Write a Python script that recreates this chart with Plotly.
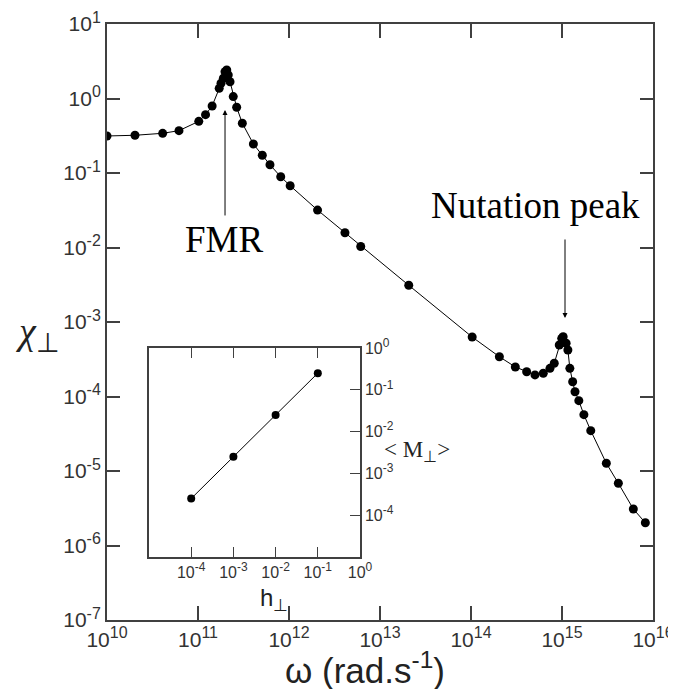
import plotly.graph_objects as go

# main curve: transverse susceptibility vs angular frequency
omega = [1.00e10, 2.03e10, 4.09e10, 6.18e10, 1.02e11, 1.21e11, 1.43e11,
         1.71e11, 1.79e11, 1.90e11, 1.98e11, 2.07e11, 2.15e11, 2.25e11,
         2.44e11, 2.66e11, 3.07e11, 4.06e11, 5.09e11, 6.18e11, 8.11e11,
         1.03e12, 2.06e12, 4.12e12, 6.14e12, 2.07e13, 1.03e14, 2.05e14,
         3.07e14, 4.09e14, 5.05e14, 6.23e14, 7.38e14, 8.22e14, 9.33e14,
         9.93e14, 1.03e15, 1.11e15, 1.16e15, 1.22e15, 1.31e15, 1.39e15,
         1.53e15, 1.74e15, 2.07e15, 3.07e15, 4.16e15, 6.08e15, 8.24e15]
chi = [0.314, 0.321, 0.341, 0.370, 0.494, 0.607, 0.794,
       1.37, 1.60, 1.87, 2.29, 2.41, 2.07, 1.68,
       1.06, 0.762, 0.465, 0.245, 0.173, 0.129, 0.0891,
       0.0675, 0.0318, 0.0158, 0.0103, 3.11e-3, 6.29e-4, 3.42e-4,
       2.49e-4, 2.15e-4, 1.95e-4, 2.05e-4, 2.39e-4, 2.79e-4, 4.91e-4,
       6.04e-4, 6.35e-4, 5.18e-4, 4.21e-4, 2.39e-4, 1.58e-4, 1.16e-4,
       8.79e-5, 5.70e-5, 3.48e-5, 1.27e-5, 6.84e-6, 3.09e-6, 2.02e-6]

# inset: magnetisation vs field
h_perp = [1e-4, 1e-3, 1e-2, 1e-1]
m_perp = [2.5e-4, 2.5e-3, 2.5e-2, 2.5e-1]

x_exp = list(range(10, 17))
y_exp = list(range(-7, 2))
in_exp = list(range(-4, 1))


def pow_label(e, sup_px):
    return "10<sup><span style='font-size:%dpx'>%d</span></sup>" % (sup_px, e)


AX = "#404040"
SANS = "Liberation Sans, Arial"
SERIF = "Liberation Serif, Times New Roman"

fig = go.Figure()

fig.add_trace(go.Scatter(
    x=omega, y=chi, mode="lines+markers",
    line=dict(color="black", width=1),
    marker=dict(color="black", size=9),
    xaxis="x", yaxis="y", showlegend=False))

fig.add_trace(go.Scatter(
    x=h_perp, y=m_perp, mode="lines+markers",
    line=dict(color="black", width=1),
    marker=dict(color="black", size=8),
    xaxis="x2", yaxis="y2", showlegend=False))

# page body has an 8px margin, so the margins are pulled in by 8px
fig.update_layout(
    width=676, height=689, autosize=False,
    margin=dict(l=99, r=31, t=16, b=77),
    paper_bgcolor="white", plot_bgcolor="white",
    font=dict(family=SANS, color="#333333"),
    xaxis=dict(type="log", range=[10, 16], tickvals=[10.0 ** e for e in x_exp],
               ticktext=[pow_label(e, 16) for e in x_exp],
               ticks="inside", ticklen=14, tickwidth=1.5, tickcolor=AX,
               showline=True, linecolor=AX, linewidth=2, mirror="ticks",
               showgrid=False, zeroline=False, automargin=False,
               tickfont=dict(size=21)),
    yaxis=dict(type="log", range=[-7, 1], tickvals=[10.0 ** e for e in y_exp],
               ticktext=[pow_label(e, 16) for e in y_exp],
               ticks="inside", ticklen=13, tickwidth=1.5, tickcolor=AX,
               showline=True, linecolor=AX, linewidth=2, mirror="ticks",
               showgrid=False, zeroline=False, automargin=False,
               tickfont=dict(size=21)),
    xaxis2=dict(type="log", range=[-5, 0], domain=[0.0769, 0.4634], anchor="y2",
                tickvals=[10.0 ** e for e in in_exp],
                ticktext=[pow_label(e, 12) for e in in_exp],
                ticks="inside", ticklen=10, tickwidth=1.2, tickcolor=AX,
                showline=True, linecolor=AX, linewidth=1.5, mirror="ticks",
                showgrid=False, zeroline=False, automargin=False,
                tickfont=dict(size=16)),
    yaxis2=dict(type="log", range=[-5, 0], domain=[0.1057, 0.4564], anchor="x2",
                side="right", tickvals=[10.0 ** e for e in in_exp],
                ticktext=[pow_label(e, 12) for e in in_exp],
                ticks="inside", ticklen=10, tickwidth=1.2, tickcolor=AX,
                showline=True, linecolor=AX, linewidth=1.5, mirror=True,
                showgrid=False, zeroline=False, automargin=False,
                tickfont=dict(size=16)),
)

annots = [
    # axis titles
    dict(text="<i>χ</i><sub>⊥</sub>", x=-0.172, y=0.48, xref="paper", yref="paper",
         showarrow=False, font=dict(size=38, family=SERIF, color="#222222")),
    dict(text="ω (rad.s<sup>-1</sup>)", x=0.4725, y=-0.12, xref="paper", yref="paper",
         showarrow=False, font=dict(size=35, family=SANS, color="#222222")),
    dict(text="h<sub>⊥</sub>", x=0.2766, y=0.005, xref="paper", yref="paper",
         showarrow=False, font=dict(size=24, family=SANS, color="#222222")),
    dict(text="&lt; M<sub>⊥</sub>&gt;", x=0.568, y=0.257, xref="paper", yref="paper",
         showarrow=False, font=dict(size=23, family=SERIF, color="#222222")),
    # peak labels
    dict(text="FMR", x=11.286, y=-1.899, xref="x", yref="y",
         showarrow=False, font=dict(size=37, family=SERIF, color="black")),
    dict(text="Nutation peak", x=14.714, y=-1.43, xref="x", yref="y",
         showarrow=False, font=dict(size=37, family=SERIF, color="black")),
    # arrows
    dict(text="", x=11.297, y=-0.154, xref="x", yref="y", ax=0, ay=107,
         showarrow=True, arrowhead=2, arrowsize=1, arrowwidth=1, arrowcolor="black"),
    dict(text="", x=15.033, y=-2.946, xref="x", yref="y", ax=0, ay=-80,
         showarrow=True, arrowhead=2, arrowsize=1, arrowwidth=1, arrowcolor="black"),
]
fig.update_layout(annotations=annots)

fig.write_html("out.html")
